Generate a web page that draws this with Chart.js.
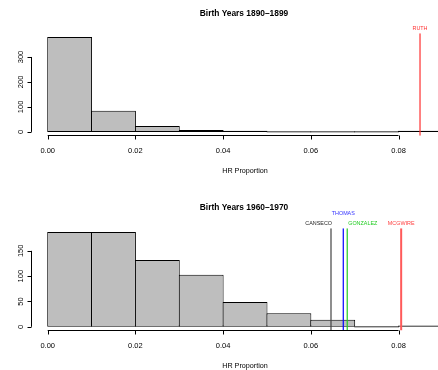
<!DOCTYPE html>
<html lang="en">
<head>
<meta charset="UTF-8">
<title>HR Proportion by birth years</title>
<script src="https://cdn.jsdelivr.net/npm/chart.js"></script>
<style>
  body { margin: 0; background: #fff; }
  .panel { position: absolute; left: 0; width: 438px; }
</style>
</head>
<body>
<div class="panel" style="top:0;height:180px"><canvas id="c1890" width="438" height="180"></canvas></div>
<div class="panel" style="top:180px;height:190px"><canvas id="c1960" width="438" height="190"></canvas></div>

<script>
// histogram bins (left edges, width 0.01)
const binLefts = [0.00, 0.01, 0.02, 0.03, 0.04, 0.05, 0.06, 0.07, 0.08];
const binWidth = 0.01;
const counts1890 = [380, 85, 24, 8, 2, 0, 0, 0, 1];
const counts1960 = [187, 187, 132, 103, 49, 27, 14, 0, 1];

// axis ticks
const xTicks = [0.00, 0.02, 0.04, 0.06, 0.08];
const yTicks1890 = [0, 100, 200, 300];
const yTicks1960 = [0, 50, 100, 150];

// marked players
const players1890 = ['RUTH'];
const hr1890 = [0.0849];
const players1960 = ['CANSECO', 'THOMAS', 'GONZALEZ', 'MCGWIRE'];
const hr1960 = [0.0646, 0.0674, 0.0683, 0.0806];

const FONT = '"Liberation Sans", Arial, Helvetica, sans-serif';

// R style axes, titles and player names
const rAxes = {
  id: 'rAxes',
  afterDraw(chart, args, o) {
    const {ctx, chartArea, scales: {x, y}} = chart;
    ctx.save();
    ctx.strokeStyle = '#000';
    ctx.fillStyle = '#000';
    ctx.lineWidth = 1;

    // x axis
    const xb = Math.floor(chartArea.bottom) + 0.5;
    ctx.beginPath();
    ctx.moveTo(x.getPixelForValue(xTicks[0]), xb);
    ctx.lineTo(x.getPixelForValue(xTicks[xTicks.length - 1]), xb);
    xTicks.forEach(v => {
      const p = Math.round(x.getPixelForValue(v)) + 0.5;
      ctx.moveTo(p, xb);
      ctx.lineTo(p, xb + 4);
    });
    ctx.stroke();
    ctx.font = '7.5px ' + FONT;
    ctx.textAlign = 'center';
    ctx.textBaseline = 'middle';
    xTicks.forEach(v => ctx.fillText(v.toFixed(2), x.getPixelForValue(v), xb + 15));

    // y axis
    const yl = Math.floor(chartArea.left) + 0.5;
    ctx.beginPath();
    ctx.moveTo(yl, y.getPixelForValue(o.yTicks[0]));
    ctx.lineTo(yl, y.getPixelForValue(o.yTicks[o.yTicks.length - 1]));
    o.yTicks.forEach(v => {
      const p = Math.round(y.getPixelForValue(v)) + 0.5;
      ctx.moveTo(yl, p);
      ctx.lineTo(yl - 4, p);
    });
    ctx.stroke();
    o.yTicks.forEach(v => {
      ctx.save();
      ctx.translate(21, y.getPixelForValue(v));
      ctx.rotate(-Math.PI / 2);
      ctx.fillText(String(v), 0, 0);
      ctx.restore();
    });

    // title and x label
    ctx.font = 'bold 8.4px ' + FONT;
    ctx.fillText(o.title, 244, o.titleY);
    ctx.font = '7.2px ' + FONT;
    ctx.fillText('HR Proportion', 245, o.xlabY);

    // player names
    ctx.font = '5.4px ' + FONT;
    o.names.forEach((n, i) => {
      ctx.fillStyle = o.labelColors[i];
      ctx.textAlign = o.labelAlign[i];
      const dx = o.labelAlign[i] === 'right' ? 1 : (o.labelAlign[i] === 'left' ? 1 : 0);
      ctx.fillText(n, x.getPixelForValue(o.values[i]) + dx, o.labelY[i]);
    });
    ctx.restore();
  }
};

function makePanel(id, counts, yTicks, yMin, yMax, names, values, lineColors, lineWidths, labelColors, labelY, labelAlign, opts) {
  const datasets = [{
    type: 'bar',
    data: binLefts.map((b, i) => ({x: b + binWidth / 2, y: counts[i]})),
    backgroundColor: '#bebebe',
    borderColor: '#000',
    borderWidth: 1,
    borderSkipped: false,
    minBarLength: 1.2,
    barPercentage: 1.023,
    categoryPercentage: 1,
    order: 1
  }];
  names.forEach((n, i) => {
    datasets.push({
      type: 'line',
      label: n,
      data: [{x: values[i], y: yMin}, {x: values[i], y: yMax}],
      borderColor: lineColors[i],
      borderWidth: lineWidths[i],
      pointRadius: 0,
      fill: false,
      order: 0
    });
  });

  new Chart(document.getElementById(id), {
    data: {datasets},
    plugins: [rAxes],
    options: {
      responsive: false,
      animation: false,
      events: [],
      layout: {padding: {left: 0, right: 0, top: opts.areaTop, bottom: 0}},
      plugins: {
        legend: {display: false},
        tooltip: {enabled: false},
        rAxes: {
          yTicks, title: opts.title, titleY: opts.titleY, xlabY: opts.xlabY,
          names, values, labelColors, labelY, labelAlign
        }
      },
      scales: {
        x: {
          type: 'linear',
          offset: false,
          min: -0.00365,
          max: 0.0890,
          ticks: {display: false},
          grid: {display: false, offset: false},
          border: {display: false},
          afterBuildTicks: s => { s.ticks = xTicks.map(v => ({value: v})); },
          afterFit: s => { s.height = opts.h - opts.areaBottom; }
        },
        y: {
          type: 'linear',
          min: yMin,
          max: yMax,
          ticks: {display: false},
          grid: {display: false},
          border: {display: false},
          afterBuildTicks: s => { s.ticks = yTicks.map(v => ({value: v})); },
          afterFit: s => { s.width = 31.7; }
        }
      }
    }
  });
}

makePanel('c1890', counts1890, yTicks1890, -15.2, 395.2,
  players1890, hr1890, ['#ff3030'], [1.2], ['#ff3030'], [28.7], ['center'],
  {h: 180, areaTop: 33.2, areaBottom: 135.7, title: 'Birth Years 1890\u20131899', titleY: 13.3, xlabY: 171});

makePanel('c1960', counts1960, yTicks1960, -7.48, 194.5,
  players1960, hr1960,
  ['#444444', '#0000ff', '#22cc22', '#ff5a5a'], [1.2, 1.2, 1.2, 2],
  ['#222222', '#3333ff', '#22cc22', '#ff4040'], [43.7, 33.3, 43.7, 43.7],
  ['right', 'center', 'left', 'center'],
  {h: 190, areaTop: 48.3, areaBottom: 150.6, title: 'Birth Years 1960\u20131970', titleY: 28, xlabY: 185.7});
</script>
</body>
</html>
